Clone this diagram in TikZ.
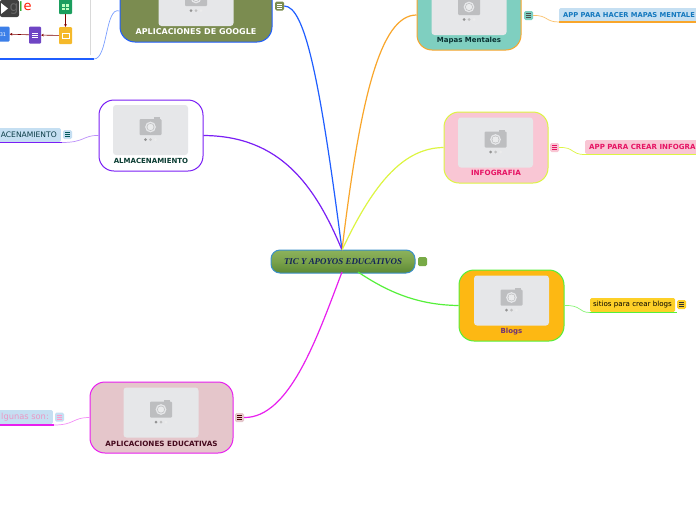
\documentclass[tikz,border=0pt]{standalone}
\usepackage{fontspec}
\setmainfont{DejaVu Sans}
\newfontfamily\serifcentral{Liberation Serif}
\usetikzlibrary{arrows.meta,calc}
\definecolor{cblue}{HTML}{1F5EFF}
\definecolor{corange}{HTML}{F9A62B}
\definecolor{cpurple}{HTML}{7A1FF5}
\definecolor{cyellow}{HTML}{DDF542}
\definecolor{cgreen}{HTML}{55F03A}
\definecolor{cmag}{HTML}{E81FEF}
\definecolor{imgfill}{HTML}{E6E7E9}
\definecolor{camgray}{HTML}{BDBEC0}
\definecolor{topicblue}{HTML}{C5DFF2}
\definecolor{oliveg}{RGB}{123,140,80}
\definecolor{tealc}{RGB}{127,207,192}
\definecolor{pinkc}{RGB}{249,198,212}
\definecolor{ambera}{RGB}{253,184,19}
\definecolor{ambery}{RGB}{253,208,40}
\definecolor{rosec}{RGB}{229,198,203}
\definecolor{hotpink}{RGB}{230,20,100}
\definecolor{icsheets}{RGB}{27,158,94}
\definecolor{icslides}{RGB}{245,185,42}
\definecolor{icforms}{RGB}{111,69,196}
\definecolor{iccal}{RGB}{60,127,232}
\definecolor{censtroke}{RGB}{59,144,200}
\definecolor{centop}{RGB}{140,178,92}
\definecolor{cenmid}{RGB}{122,162,74}
\definecolor{cenbot}{RGB}{92,136,52}
\definecolor{centxt}{RGB}{18,35,90}
\definecolor{cennote}{RGB}{120,170,70}
\tikzset{
  x=1pt,y=-1pt,
  card/.style={draw,line width=1pt,rounded corners=15pt,inner sep=0pt},
  photo/.style={fill=imgfill,rounded corners=3pt,inner sep=0pt,minimum width=75pt,minimum height=50pt},
  cardlabel/.style={font=\fontsize{7}{8}\selectfont\bfseries,inner sep=0pt},
  note/.style={rounded corners=1.5pt,minimum width=9pt,minimum height=9pt,inner sep=0pt},
  topic/.style={rounded corners=1.5pt,inner sep=0pt,minimum height=14pt},
  ttext/.style={inner sep=0pt},
  link/.style={line width=1.2pt},
  sublink/.style={line width=.7pt},
  under/.style={line width=1.3pt},
  redarrow/.style={draw=red!50!black,line width=.6pt,-{Stealth[length=2.6pt,width=2.6pt]}}
}
\newcommand{\camicon}[2]{%
  \begin{scope}[shift={(#1,#2)}]
    \fill[camgray,rounded corners=1pt] (-11,-8) rectangle (11,8);
    \fill[camgray] (3,-10) rectangle (9,-7);
    \fill[imgfill] (0,0) circle (5.4);
    \fill[camgray] (0,0) circle (3.9);
    \fill[imgfill!85!white] (0,0) circle (3.2);
    \fill[gray!85] (-5,12.5) circle (1.5);
    \fill[gray!50] (0,12.5) circle (1.5);
    \fill[gray!15] (5,12.5) circle (1.5);
  \end{scope}}
\newcommand{\notelines}[2]{%
  \foreach \dy in {-2,0,2} \draw[#2,line width=.55pt] ($(#1)+(-2.4,\dy)$) -- ($(#1)+(2.4,\dy)$);}
\begin{document}
\begin{tikzpicture}
\useasboundingbox (0,0) rectangle (696,520);
\fill[white] (0,0) rectangle (696,520);
\clip (0,0) rectangle (696,520);
\coordinate (hub) at (342,250);
\coordinate (hubb) at (342,272);
\coordinate (hubr) at (358,272);

% cards
\node[card,draw=cblue,fill=oliveg,minimum width=152pt,minimum height=62pt] (google) at (196,11) {};
\node[card,draw=corange,fill=tealc,minimum width=104pt,minimum height=70pt] (mapas) at (469,15) {};
\node[card,draw=cpurple,fill=white,minimum width=104pt,minimum height=71pt] (alm) at (151,135.5) {};
\node[card,draw=cyellow,fill=pinkc,minimum width=104pt,minimum height=71pt] (info) at (496,147.5) {};
\node[card,draw=cgreen,fill=ambera,minimum width=105pt,minimum height=71pt] (blogs) at (511.5,305.5) {};
\node[card,draw=cmag,fill=rosec,minimum width=143pt,minimum height=71pt] (edu) at (161.5,417.5) {};

% notes
\node[note,fill=oliveg] (ngoogle) at (279.5,6) {};
\notelines{ngoogle}{white}
\node[note,fill=tealc] (nmapas) at (528.5,15.5) {};
\notelines{nmapas}{black!70}
\node[note,fill=topicblue] (nalm) at (67.5,134.5) {};
\notelines{nalm}{teal!70!black}
\node[note,fill=pinkc] (ninfo) at (554.5,147.5) {};
\notelines{ninfo}{hotpink}
\node[note,fill=ambery] (nblogs) at (681.5,304.5) {};
\notelines{nblogs}{black!80}
\node[note,fill=rosec] (nedu) at (239.5,417.5) {};
\notelines{nedu}{red!30!black}
\node[note,fill=topicblue] (nedul) at (59.5,417) {};
\notelines{nedul}{pink!80!magenta}

% central
\draw[draw=censtroke,line width=1pt,rounded corners=9pt,top color=centop,bottom color=cenbot,middle color=cenmid] (271,250) rectangle (415,273);
\node[inner sep=0pt,text=centxt,font=\serifcentral\fontsize{8.9}{10}\selectfont\bfseries\itshape] (central) at (343,261.5) {TIC Y APOYOS EDUCATIVOS};
\node[note,fill=cennote] (ncentral) at (422.5,261.5) {};

% links from the centre
\draw[link,cblue] (ngoogle.east) .. controls (305,6) and (320,80) .. (hub);
\draw[link,corange] (mapas.west) .. controls (380,15) and (360,100) .. (hub);
\draw[link,cpurple] (alm.east) .. controls (280,136) and (315,185) .. (hub);
\draw[link,cyellow] (info.west) .. controls (405,148) and (375,180) .. (hub);
\draw[link,cgreen] (blogs.west) .. controls (415,305) and (385,290) .. (hubr);
\draw[link,cmag] (nedu.east) .. controls (290,418) and (318,335) .. (hubb);

% photos
\foreach \n/\cx/\cy in {pg/196/1,pm/469/10,pa/150.5/130,pi/495.5/142.5,pb/511.5/300.5,pe/161/412.5}{
  \node[photo] (\n) at (\cx,\cy) {};
}
\camicon{196}{-2}
\camicon{469}{7}
\camicon{150.5}{127}
\camicon{495.5}{139.5}
\camicon{511.5}{297.5}
\camicon{161}{409.5}

% card labels
\node[cardlabel,font=\fontsize{8}{9}\selectfont\bfseries,text=white] (lgoogle) at (196,32) {APLICACIONES DE GOOGLE};
\node[cardlabel,text={rgb,255:red,10;green,50;blue,50}] (lmapas) at (469,41) {Mapas Mentales};
\node[cardlabel,text={rgb,255:red,10;green,60;blue,50}] (lalm) at (151,161) {ALMACENAMIENTO};
\node[cardlabel,font=\fontsize{7.2}{8}\selectfont\bfseries,text=hotpink] (linfo) at (496,173) {INFOGRAFIA};
\node[cardlabel,text={rgb,255:red,110;green,50;blue,120}] (lblogs) at (511.5,331.5) {Blogs};
\node[cardlabel,font=\fontsize{7.2}{8}\selectfont\bfseries,text={rgb,255:red,70;green,10;blue,30}] (ledu) at (161.5,443.5) {APLICACIONES EDUCATIVAS};

% topics
\node[topic,fill=topicblue,minimum width=140pt,anchor=west] (tmapas) at (559,15) {};
\node[ttext,font=\fontsize{6.75}{8}\selectfont\bfseries,text={rgb,255:red,20;green,120;blue,190},anchor=west] (xmapas) at (563,15) {APP PARA HACER MAPAS MENTALE};
\node[topic,fill=pinkc,minimum width=115pt,anchor=west] (tinfo) at (585,147) {};
\node[ttext,font=\fontsize{7.05}{8}\selectfont\bfseries,text=hotpink,anchor=west] (xinfo) at (589,147) {APP PARA CREAR INFOGRA};
\node[topic,fill=ambery,minimum width=85pt,anchor=west] (tblogs) at (590,305) {};
\node[ttext,font=\fontsize{7.1}{8}\selectfont,anchor=west] (xblogs) at (593,305) {sitios para crear blogs};
\node[topic,fill=topicblue,minimum width=62pt,anchor=east] (talm) at (61,135) {};
\node[ttext,font=\fontsize{7.6}{8}\selectfont,text={rgb,255:red,10;green,60;blue,70},anchor=east] (xalm) at (57,135) {ACENAMIENTO};
\node[topic,fill=topicblue,minimum width=54pt,anchor=east] (tedu) at (53,417) {};
\node[ttext,font=\fontsize{8.3}{9}\selectfont,text={rgb,255:red,235;green,150;blue,195},anchor=east] (xedu) at (49,417) {lgunas son:};

% underlines and small links
\coordinate (umr) at (559,22);\coordinate (umre) at (696,22);
\draw[under,corange] (umr) -- (umre);
\coordinate (uil) at (585,154.5);\coordinate (uie) at (696,154.5);
\draw[under,cyellow] (uil) -- (uie);
\coordinate (ubl) at (590,312.5);\coordinate (ube) at (677,312.5);
\draw[under,cgreen] (ubl) -- (ube);
\coordinate (ual) at (0,142.5);\coordinate (uae) at (62,142.5);
\draw[under,cpurple] (ual) -- (uae);
\coordinate (uel) at (0,425);\coordinate (uee) at (54,425);
\draw[under,cmag] (uel) -- (uee);
\draw[sublink,corange!70] (nmapas.east) .. controls (548,15) and (545,22) .. (umr);
\draw[sublink,cyellow] (ninfo.east) .. controls (575,147) and (570,154.5) .. (uil);
\draw[sublink,cgreen!70] (blogs.east) .. controls (582,305) and (578,312.5) .. (ubl);
\draw[sublink,cpurple!50] (alm.west) .. controls (83,135) and (85,142.5) .. (uae);
\draw[sublink,cmag!50] (edu.west) .. controls (72,417.5) and (75,425) .. (uee);

% google image panel link
\coordinate (ug0) at (0,59);\coordinate (ug1) at (94,59);
\draw[under,cblue] (ug0) -- (ug1);
\draw[sublink,cblue!60] (google.west) .. controls (105,6) and (108,59) .. (ug1);
\coordinate (pl0) at (90,0);\coordinate (pl1) at (90,55);
\draw[black!15,line width=.5pt] (pl0) -- (pl1);

% application icons
\node[fill=black!75,rounded corners=2pt,minimum width=19pt,minimum height=17pt,inner sep=0pt] (yt) at (9.5,8.5) {};
\fill[white] (1,3) -- (8,8.5) -- (1,14) -- cycle;
\node[inner sep=0pt,text=black!60,font=\fontsize{14}{14}\selectfont] (gg) at (14,9) {g};
\node[inner sep=0pt,text=green!60!black,font=\fontsize{13}{13}\selectfont] (gl) at (21,7) {l};
\node[inner sep=0pt,text=red!80!orange,font=\fontsize{13}{13}\selectfont] (ge) at (27.5,7) {e};
\node[fill=icsheets,rounded corners=1pt,minimum width=13pt,minimum height=15pt,inner sep=0pt] (sheets) at (65.5,6.5) {};
\fill[green!25!white] (62,4) rectangle (69,10);
\draw[icsheets,line width=.4pt] (62,7) -- (69,7) (65.5,4) -- (65.5,10);
\node[fill=icslides,rounded corners=1pt,minimum width=13pt,minimum height=17pt,inner sep=0pt] (slides) at (65.5,35.5) {};
\draw[white,line width=.8pt] (62,33) rectangle (69,38);
\node[fill=icforms,rounded corners=1pt,minimum width=12pt,minimum height=17pt,inner sep=0pt] (forms) at (35,35) {};
\foreach \yy in {33,35,37}\draw[white,line width=.5pt] (32,\yy) -- (38,\yy);
\node[fill=iccal,rounded corners=1pt,minimum width=11pt,minimum height=15pt,inner sep=0pt] (cal) at (4,34) {};
\node[inner sep=0pt,text=white,font=\fontsize{5}{5}\selectfont] (calt) at (3,35) {31};
\draw[redarrow] (sheets) -- (slides);
\draw[redarrow] (slides) -- (forms);
\draw[redarrow] (forms) -- (cal);
\end{tikzpicture}
\end{document}
